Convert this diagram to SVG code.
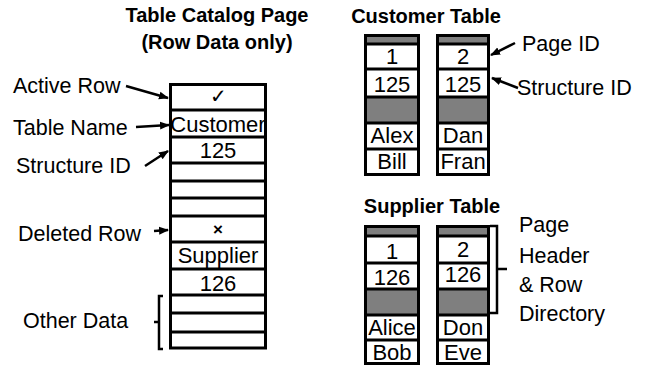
<svg xmlns="http://www.w3.org/2000/svg" width="652" height="370" viewBox="0 0 652 370">
<defs>
<style>
.t{font-family:"Liberation Sans",Arial,sans-serif;fill:#000}
.b{font-weight:bold;font-size:20px}
.lab{font-size:21.5px}
.cell{font-size:22px;text-anchor:middle}
.box{fill:#fff;stroke:#000;stroke-width:3}
.ln{stroke:#000;stroke-width:3;fill:none}
.gray{fill:#7f7f7f}
.arr{stroke:#000;stroke-width:2.5;fill:none;marker-end:url(#ah)}
.br{stroke:#000;stroke-width:2.5;fill:none}
</style>
<marker id="ah" markerUnits="userSpaceOnUse" markerWidth="10" markerHeight="10" refX="9" refY="5" orient="auto">
<path d="M0,1 L10,5 L0,9 Z" fill="#000"/>
</marker>
</defs>

<g id="titles">
<text class="t b" x="217" y="22" text-anchor="middle">Table Catalog Page</text>
<text class="t b" x="217" y="49" text-anchor="middle">(Row Data only)</text>
<text class="t b" x="426" y="23" text-anchor="middle">Customer Table</text>
<text class="t b" x="432" y="213" text-anchor="middle">Supplier Table</text>
</g>

<g id="catalog-page">
<rect class="box" x="170.5" y="84.5" width="95" height="263.5"/>
<path class="ln" d="M170,110H266M170,137H266M170,163H266M170,181H266M170,198H266M170,216H266M170,242H266M170,269H266M170,295H266M170,313H266M170,332H266"/>
<text class="t" x="218" y="103" font-size="20" text-anchor="middle" font-family="DejaVu Sans">✓</text>
<text class="t cell" x="218" y="132">Customer</text>
<text class="t cell" x="218" y="158">125</text>
<text class="t" x="218" y="235" font-size="17" font-weight="bold" text-anchor="middle" font-family="DejaVu Sans">×</text>
<text class="t cell" x="218" y="263">Supplier</text>
<text class="t cell" x="218" y="291">126</text>
</g>

<g id="customer-page-1">
<rect class="box" x="365.5" y="35.5" width="53" height="139"/>
<rect class="gray" x="365.5" y="35.5" width="53" height="8.5"/>
<rect class="gray" x="365.5" y="97" width="53" height="26"/>
<path class="ln" d="M365,44H419M365,69H419M365,97H419M365,123H419M365,149H419"/>
<rect class="ln" x="365.5" y="35.5" width="53" height="139"/>
<text class="t cell" x="392" y="64">1</text>
<text class="t cell" x="392" y="92">125</text>
<text class="t cell" x="392" y="143">Alex</text>
<text class="t cell" x="392" y="169">Bill</text>
</g>

<g id="customer-page-2">
<rect class="box" x="437.5" y="35.5" width="51" height="139"/>
<rect class="gray" x="437.5" y="35.5" width="51" height="8.5"/>
<rect class="gray" x="437.5" y="97" width="51" height="26"/>
<path class="ln" d="M437,44H489M437,69H489M437,97H489M437,123H489M437,149H489"/>
<rect class="ln" x="437.5" y="35.5" width="51" height="139"/>
<text class="t cell" x="463" y="64">2</text>
<text class="t cell" x="463" y="92">125</text>
<text class="t cell" x="463" y="143">Dan</text>
<text class="t cell" x="463" y="169">Fran</text>
</g>

<g id="supplier-page-1">
<rect class="box" x="365.5" y="226.5" width="53" height="137"/>
<rect class="gray" x="365.5" y="226.5" width="53" height="9.5"/>
<rect class="gray" x="365.5" y="289" width="53" height="26"/>
<path class="ln" d="M365,236H419M365,263H419M365,289H419M365,315H419M365,340H419"/>
<rect class="ln" x="365.5" y="226.5" width="53" height="137"/>
<text class="t cell" x="392" y="259">1</text>
<text class="t cell" x="392" y="285">126</text>
<text class="t cell" x="392" y="335">Alice</text>
<text class="t cell" x="392" y="360">Bob</text>
</g>

<g id="supplier-page-2">
<rect class="box" x="437.5" y="226.5" width="51" height="137"/>
<rect class="gray" x="437.5" y="226.5" width="51" height="9.5"/>
<rect class="gray" x="437.5" y="289" width="51" height="26"/>
<path class="ln" d="M437,236H489M437,263H489M437,289H489M437,315H489M437,340H489"/>
<rect class="ln" x="437.5" y="226.5" width="51" height="137"/>
<text class="t cell" x="463" y="257">2</text>
<text class="t cell" x="463" y="282">126</text>
<text class="t cell" x="463" y="335">Don</text>
<text class="t cell" x="463" y="360">Eve</text>
</g>

<g id="labels">
<text class="t lab" x="13" y="93">Active Row</text>
<text class="t lab" x="13" y="135">Table Name</text>
<text class="t lab" x="16" y="173">Structure ID</text>
<text class="t lab" x="18" y="241">Deleted Row</text>
<text class="t lab" x="23" y="328">Other Data</text>
<text class="t lab" x="522" y="51">Page ID</text>
<text class="t lab" x="517" y="95">Structure ID</text>
<text class="t lab" x="519" y="232">Page</text>
<text class="t lab" x="519" y="263">Header</text>
<text class="t lab" x="519" y="292">&amp; Row</text>
<text class="t lab" x="519" y="321">Directory</text>
</g>

<g id="connectors">
<line class="arr" x1="126" y1="86" x2="168" y2="98"/>
<line class="arr" x1="136" y1="127" x2="169" y2="125"/>
<line class="arr" x1="145" y1="166" x2="168" y2="151"/>
<line class="arr" x1="154" y1="231" x2="168" y2="230"/>
<line class="arr" x1="515" y1="43" x2="491" y2="55"/>
<line class="arr" x1="518" y1="88" x2="492" y2="78"/>
<path class="br" d="M163,296H159V349H163M159,322H154"/>
<path class="br" d="M490,226H497V313H490M497,269H507"/>
</g>
</svg>
